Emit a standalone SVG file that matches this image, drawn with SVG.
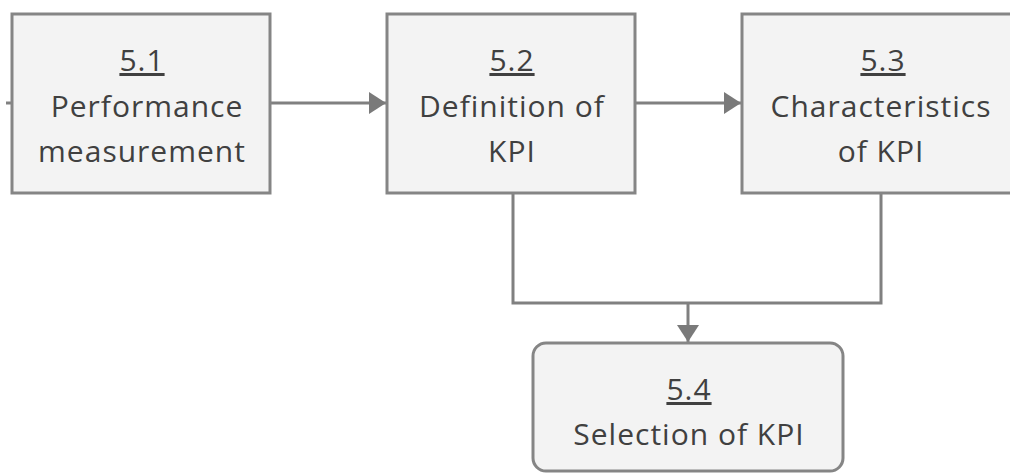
<svg xmlns="http://www.w3.org/2000/svg" width="1010" height="473" viewBox="0 0 1010 473">
  <style>
    .box { fill: #f3f3f3; stroke: #858585; stroke-width: 3; }
    .label { font-family: "Open Sans", "Noto Sans", sans-serif; font-size: 30px; letter-spacing: 1px; fill: #404040; text-anchor: middle; }
    .num { text-decoration: underline; }
    .wire { fill: none; stroke: #808080; stroke-width: 3; }
  </style>
  <defs>
    <marker id="arrow" markerUnits="userSpaceOnUse" markerWidth="20" markerHeight="24" refX="18" refY="12" orient="auto">
      <path d="M1,1 L18,12 L1,23 Z" fill="#7a7a7a"/>
    </marker>
  </defs>

  <g id="connectors">
    <line class="wire" x1="6" y1="103" x2="12" y2="103"/>
    <line class="wire" x1="270" y1="103" x2="386" y2="103" marker-end="url(#arrow)"/>
    <line class="wire" x1="635" y1="103" x2="741" y2="103" marker-end="url(#arrow)"/>
    <polyline class="wire" points="513,193 513,303 881,303 881,193"/>
    <line class="wire" x1="688" y1="303" x2="688" y2="342" marker-end="url(#arrow)"/>
  </g>

  <g id="node-5-1">
    <rect class="box" x="12" y="14" width="258" height="179"/>
    <text class="label" x="142" y="71"><tspan class="num">5.1</tspan></text>
    <text class="label" x="147" y="117">Performance</text>
    <text class="label" x="142" y="162">measurement</text>
  </g>

  <g id="node-5-2">
    <rect class="box" x="387" y="14" width="248" height="179"/>
    <text class="label" x="512" y="71"><tspan class="num">5.2</tspan></text>
    <text class="label" x="512" y="117">Definition of</text>
    <text class="label" x="512" y="162">KPI</text>
  </g>

  <g id="node-5-3">
    <rect class="box" x="742" y="14" width="290" height="179"/>
    <text class="label" x="883" y="71"><tspan class="num">5.3</tspan></text>
    <text class="label" x="881" y="117">Characteristics</text>
    <text class="label" x="881" y="162">of KPI</text>
  </g>

  <g id="node-5-4">
    <rect class="box" x="533" y="343" width="310" height="128" rx="13" ry="13"/>
    <text class="label" x="689" y="400"><tspan class="num">5.4</tspan></text>
    <text class="label" x="689" y="445">Selection of KPI</text>
  </g>
</svg>
